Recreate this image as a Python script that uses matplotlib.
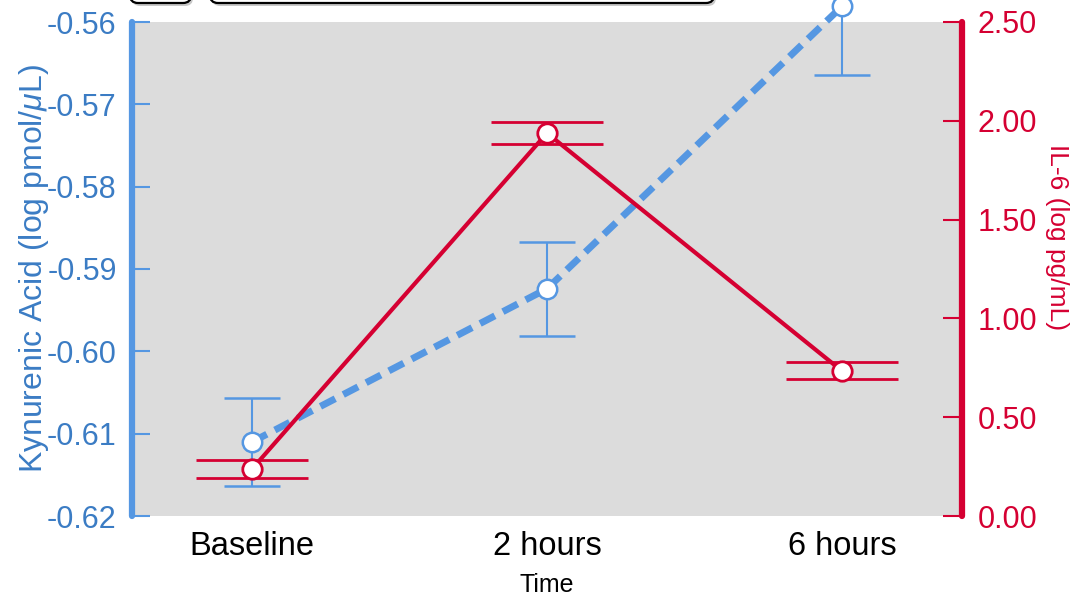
import matplotlib as mpl
mpl.use('Agg')
import matplotlib.pyplot as plt
from matplotlib.patches import FancyBboxPatch

plt.rcParams['font.family'] = ['Liberation Sans', 'DejaVu Sans']
plt.rcParams['mathtext.fontset'] = 'custom'
plt.rcParams['mathtext.it'] = 'Liberation Sans:italic'
plt.rcParams['mathtext.rm'] = 'Liberation Sans'

# data
times = ['Baseline', '2 hours', '6 hours']
kyna = [-0.6110, -0.5924, -0.5581]
kyna_err = [0.0053, 0.0057, 0.0083]
il6 = [0.238, 1.938, 0.734]
il6_err = [0.046, 0.056, 0.043]

blue = '#5597e2'
blue_txt = '#3b7cc4'
red = '#d50032'

fig = plt.figure(figsize=(10.83, 6.01), dpi=100)
ax = fig.add_axes([132 / 1083, 85 / 601, 830 / 1083, 494 / 601])
ax.set_facecolor('#dcdcdc')
x = list(range(len(times)))

ax.errorbar(x, kyna, yerr=kyna_err, color=blue, lw=5, ls=(0, (2.4, 1.3)),
            elinewidth=1.5, capsize=20, capthick=1.5,
            marker='o', ms=14, mfc='white', mec=blue, mew=1.8,
            clip_on=False, zorder=3)
ax.set_ylim(-0.62, -0.56)
ax.set_yticks([-0.62, -0.61, -0.60, -0.59, -0.58, -0.57, -0.56])
ax.set_yticklabels(['%.2f' % v for v in ax.get_yticks()])
ax.set_xlim(-0.407, 2.407)
ax.set_xticks(x)
ax.set_xticklabels(times, fontsize=23.5)
ax.tick_params(axis='x', length=0, pad=11)
ax.tick_params(axis='y', direction='in', length=13, width=1.5, color=blue,
               labelcolor=blue_txt, labelsize=22, pad=11)
ax.set_xlabel('Time', fontsize=18, labelpad=8)
ax.set_ylabel('Kynurenic Acid (log pmol/$\\mu$L)', fontsize=23,
              color=blue_txt, labelpad=-3)

ax2 = ax.twinx()
ax2.errorbar(x, il6, yerr=il6_err, color=red, lw=3,
             elinewidth=1.5, capsize=40, capthick=1.8,
             marker='o', ms=14, mfc='white', mec=red, mew=2,
             clip_on=False, zorder=4)
ax2.set_ylim(0, 2.5)
ax2.set_yticks([0, 0.5, 1.0, 1.5, 2.0, 2.5])
ax2.set_yticklabels(['%.2f' % v for v in ax2.get_yticks()])
ax2.tick_params(axis='y', direction='in', length=14, width=1.5, color=red,
                labelcolor=red, labelsize=22, pad=11)
ax2.set_ylabel('IL-6 (log pg/mL)', fontsize=19, color=red, rotation=270,
               va='center', ha='center')
ax2.yaxis.set_label_coords(1.115, 0.565)

for a in (ax, ax2):
    for s in a.spines.values():
        s.set_visible(False)
ax.spines['left'].set_visible(True)
ax.spines['left'].set_color(blue)
ax.spines['left'].set_linewidth(4.5)
ax.spines['left'].set_capstyle('round')
ax2.spines['right'].set_visible(True)
ax2.spines['right'].set_color(red)
ax2.spines['right'].set_linewidth(4.5)
ax2.spines['right'].set_capstyle('round')

# legend boxes cut off at the top of the picture (pixel coords)
for x0, x1 in [(130, 191), (210, 714)]:
    for dx, dy, fc, ec in [(2, -3, '#c8c8c8', 'none'), (0, 0, 'white', 'black')]:
        box = FancyBboxPatch((x0 + dx, 598 + dy), x1 - x0, 40,
                             boxstyle='round,pad=0,rounding_size=8',
                             transform=None, facecolor=fc,
                             edgecolor=ec, lw=1.6, clip_on=False)
        fig.patches.append(box)

fig.savefig('out.png', dpi=100)
